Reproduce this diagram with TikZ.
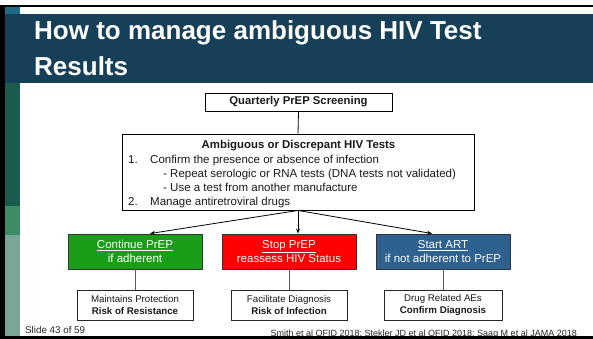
\documentclass[tikz,border=0pt]{standalone}
\usepackage{fontspec}
\setmainfont{Liberation Sans}
\usetikzlibrary{arrows.meta,calc}

\definecolor{titleband}{HTML}{164058}
\definecolor{tealsq}{HTML}{1F6B85}
\definecolor{stripdark}{HTML}{1B5B4E}
\definecolor{stripmid}{HTML}{3E8B67}
\definecolor{striplight}{HTML}{7AA597}
\definecolor{goGreen}{HTML}{1A9E1A}
\definecolor{stopRed}{HTML}{FF0000}
\definecolor{artBlue}{HTML}{2F6190}
\definecolor{inkgrey}{HTML}{1A1A1A}

\tikzset{
  flowbox/.style={draw=black, line width=0.9pt, fill=white, inner sep=0pt},
  actionbox/.style={draw=black!80, line width=0.9pt, inner sep=0pt,
    minimum width=134pt, minimum height=35pt, align=center, text=white,
    font=\fontsize{11.5}{14}\selectfont},
  outcomebox/.style={draw=black!85, line width=0.9pt, fill=white, inner sep=0pt,
    minimum height=30pt, align=center, text=inkgrey,
    font=\fontsize{9.7}{12}\selectfont},
  bodytext/.style={inner sep=0pt, text=inkgrey, font=\fontsize{11.5}{14}\selectfont},
  flowarrow/.style={draw=black, line width=0.8pt, -{Stealth[length=5pt,width=4pt]}},
  linkline/.style={draw=black!65, line width=0.8pt},
}

\begin{document}
\begin{tikzpicture}[x=1pt,y=-1pt]
\useasboundingbox (0,0) rectangle (593,339);
\fill[white] (0,0) rectangle (593,339);

% slide header and left colour strip
\fill[titleband] (5,14) rectangle (593,83);
\fill[tealsq] (5,7) rectangle (20,14);
\fill[stripdark] (5,83) rectangle (20,206);
\fill[stripmid] (5,206) rectangle (20,235);
\fill[striplight] (5,235) rectangle (20,336);

\node[anchor=base west, inner sep=0pt, text=white, font=\fontsize{26}{36}\bfseries\selectfont]
  (title1) at (34,40) {How to manage ambiguous HIV Test};
\node[anchor=base west, inner sep=0pt, text=white, font=\fontsize{26}{36}\bfseries\selectfont]
  (title2) at (34,76) {Results};

% screening box
\node[flowbox, minimum width=187pt, minimum height=18pt,
      font=\fontsize{11.3}{13}\bfseries\selectfont, text=inkgrey]
  (screen) at (298.5,102) {Quarterly PrEP Screening};

% ambiguous results box
\node[flowbox, minimum width=352pt, minimum height=76pt] (amb) at (298,172) {};
\node[bodytext, anchor=base, font=\fontsize{11.4}{14}\bfseries\selectfont]
  (ambhead) at (298.5,149) {Ambiguous or Discrepant HIV Tests};
\node[bodytext, anchor=base west] (num1) at (128,163) {1.};
\node[bodytext, anchor=base west] (item1) at (150,163) {Confirm the presence or absence of infection};
\node[bodytext, anchor=base west] (sub1) at (163,177) {- Repeat serologic or RNA tests (DNA tests not validated)};
\node[bodytext, anchor=base west] (sub2) at (163,191) {- Use a test from another manufacture};
\node[bodytext, anchor=base west] (num2) at (128,205) {2.};
\node[bodytext, anchor=base west] (item2) at (150,205) {Manage antiretroviral drugs};

% actions
\node[actionbox, fill=goGreen] (cont) at (135,251.5)
  {\underline{Continue PrEP}\\if adherent};
\node[actionbox, fill=stopRed] (stop) at (289,251.5)
  {\underline{Stop PrEP}\\reassess HIV Status};
\node[actionbox, fill=artBlue] (art) at (443,251.5)
  {\underline{Start ART}\\if not adherent to PrEP};

% outcomes
\node[outcomebox, minimum width=116pt] (prot) at (135,305)
  {Maintains Protection\\\textbf{Risk of Resistance}};
\node[outcomebox, minimum width=116pt] (diag) at (289,305)
  {Facilitate Diagnosis\\\textbf{Risk of Infection}};
\node[outcomebox, minimum width=118pt] (aes) at (443,305)
  {Drug Related AEs\\\textbf{Confirm Diagnosis}};

% connectors
\draw[line width=0.8pt] (screen.south) -- (amb.north);
\draw[flowarrow] (amb.south) -- ($(cont.north)+(15,0)$);
\draw[flowarrow] (amb.south) -- (amb.south |- stop.north);
\draw[flowarrow] (amb.south) -- ($(art.north)+(-11,0)$);
\draw[linkline] (cont.south) -- (prot.north);
\draw[linkline] (stop.south) -- (diag.north);
\draw[linkline] (art.south) -- (aes.north);

% footer
\node[anchor=base west, inner sep=0pt, text=black!85, font=\fontsize{9.8}{12}\selectfont]
  (slideno) at (25,333) {Slide 43 of 59};
\node[anchor=base east, inner sep=0pt, text=black!85, font=\fontsize{9}{11}\selectfont]
  (refs) at (577,336) {Smith et al OFID 2018; Stekler JD et al OFID 2018; Saag M et al JAMA 2018};

% frame
\fill[black] (0,5) rectangle (593,7);
\fill[black] (0,5) rectangle (5,339);
\fill[black] (0,336) rectangle (593,339);
\end{tikzpicture}
\end{document}
